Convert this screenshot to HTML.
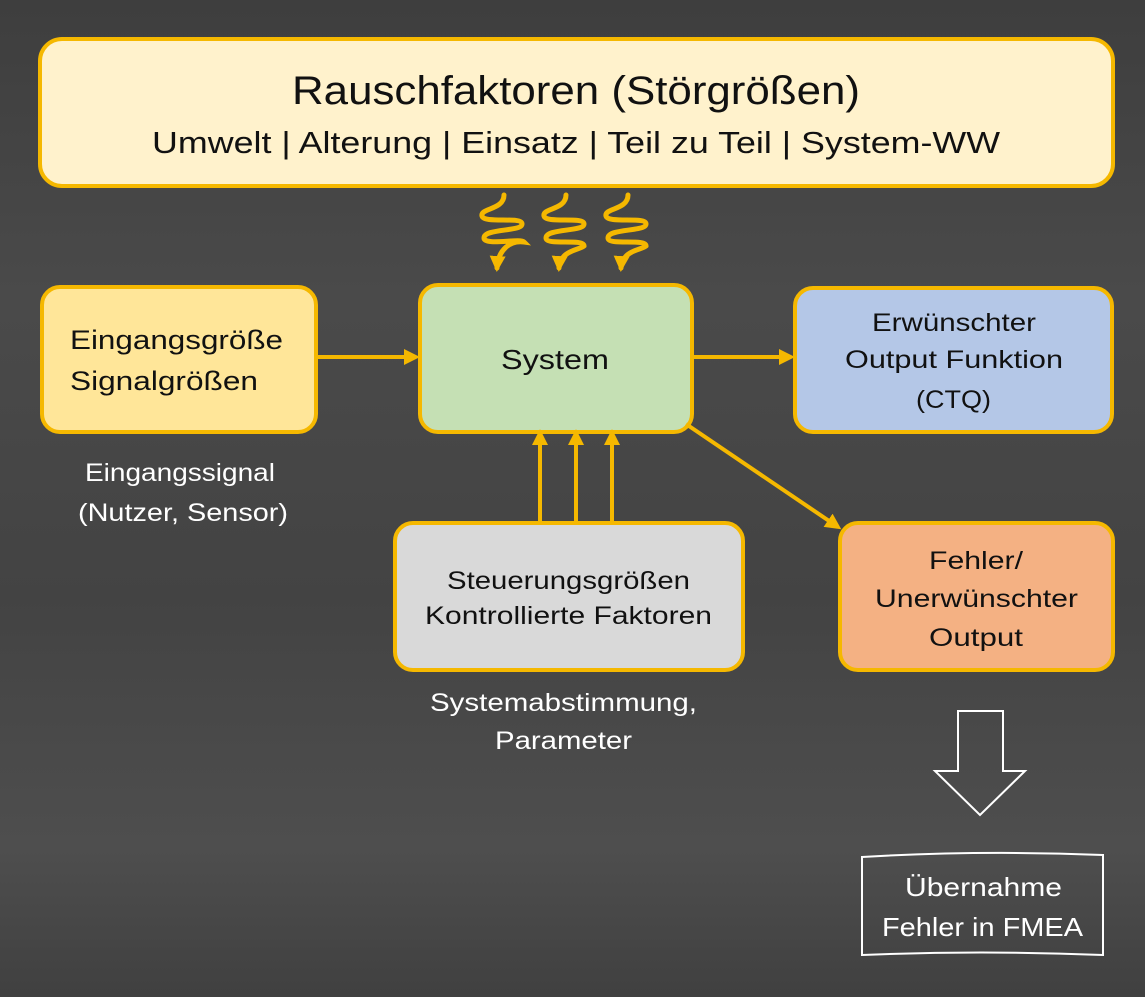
<!DOCTYPE html>
<html><head><meta charset="utf-8"><style>
html,body{margin:0;padding:0;}
body{width:1145px;height:997px;overflow:hidden;background:#474747;}
svg{display:block}
text{font-family:"Liberation Sans",sans-serif;}
</style></head><body>
<svg width="1145" height="997" viewBox="0 0 1145 997" xmlns="http://www.w3.org/2000/svg">
<defs>
<linearGradient id="bg" x1="0" y1="0" x2="0" y2="1">
<stop offset="0" stop-color="#3e3e3e"/><stop offset="0.3" stop-color="#4a4a4a"/><stop offset="0.6" stop-color="#434343"/><stop offset="0.85" stop-color="#4e4e4e"/><stop offset="1" stop-color="#404040"/>
</linearGradient>
<marker id="ah2" markerWidth="16" markerHeight="16" refX="12" refY="8" orient="auto" markerUnits="userSpaceOnUse"><path d="M0,0 L16,8 L0,16 z" fill="#f5b800"/></marker>
</defs>
<rect width="1145" height="997" fill="url(#bg)"/>
<g stroke="#f5b800" stroke-width="4">
<rect x="40" y="39" width="1073" height="147" rx="22" fill="#fff2cc"/>
<rect x="42" y="287" width="274" height="145" rx="18" fill="#ffe699"/>
<rect x="420" y="285" width="272" height="147" rx="18" fill="#c5e0b4"/>
<rect x="795" y="288" width="317" height="144" rx="18" fill="#b4c7e7"/>
<rect x="395" y="523" width="348" height="147" rx="18" fill="#d9d9d9"/>
<rect x="840" y="523" width="273" height="147" rx="18" fill="#f4b183"/>
</g>
<g stroke="#f5b800" stroke-width="4" fill="none">
<line x1="318" y1="357" x2="416" y2="357" marker-end="url(#ah2)"/>
<line x1="692" y1="357" x2="791" y2="357" marker-end="url(#ah2)"/>
<line x1="686" y1="424" x2="838" y2="527" marker-end="url(#ah2)"/>
<line x1="540" y1="522" x2="540" y2="433" marker-end="url(#ah2)"/>
<line x1="576" y1="522" x2="576" y2="433" marker-end="url(#ah2)"/>
<line x1="612" y1="522" x2="612" y2="433" marker-end="url(#ah2)"/>
<g stroke-width="5" stroke-linecap="round">
<path d="M504,195 C504,210 480,208 482,216 C484,224 522,216 522,224 C522,232 484,228 484,238 C484,246 520,238 524,242 C510,240 498,250 497,268" marker-end="url(#ah2)"/>
<path d="M566,195 C566,210 542,208 544,216 C546,224 584,216 584,224 C584,232 546,228 546,238 C546,246 584,238 584,246 C580,250 560,250 559,268" marker-end="url(#ah2)"/>
<path d="M628,195 C628,210 604,208 606,216 C608,224 646,216 646,224 C646,232 608,228 608,238 C608,246 646,238 646,246 C642,250 622,250 621,268" marker-end="url(#ah2)"/>
</g>
</g>
<path d="M958,711 L1003,711 L1003,771 L1025,771 L980,815 L935,771 L958,771 Z" fill="none" stroke="#fff" stroke-width="2"/>
<path d="M862,857 Q980,850 1103,855 L1103,955 Q980,950 862,955 Z" fill="none" stroke="#fff" stroke-width="2"/>
<g fill="#111" lengthAdjust="spacingAndGlyphs">
<text x="292" y="104" font-size="40" textLength="568" lengthAdjust="spacingAndGlyphs">Rauschfaktoren (Störgrößen)</text>
<text x="152" y="153" font-size="31" textLength="848" lengthAdjust="spacingAndGlyphs">Umwelt | Alterung | Einsatz | Teil zu Teil | System-WW</text>
<text x="70" y="349" font-size="27" textLength="213" lengthAdjust="spacingAndGlyphs">Eingangsgröße</text>
<text x="70" y="390" font-size="27" textLength="188" lengthAdjust="spacingAndGlyphs">Signalgrößen</text>
<text x="501" y="369" font-size="28" textLength="108" lengthAdjust="spacingAndGlyphs">System</text>
<text x="872" y="331" font-size="25" textLength="164" lengthAdjust="spacingAndGlyphs">Erwünschter</text>
<text x="845" y="368" font-size="25" textLength="218" lengthAdjust="spacingAndGlyphs">Output Funktion</text>
<text x="916" y="408" font-size="25" textLength="75" lengthAdjust="spacingAndGlyphs">(CTQ)</text>
<text x="447" y="589" font-size="25" textLength="243" lengthAdjust="spacingAndGlyphs">Steuerungsgrößen</text>
<text x="425" y="624" font-size="25" textLength="287" lengthAdjust="spacingAndGlyphs">Kontrollierte Faktoren</text>
<text x="929" y="569" font-size="25" textLength="94" lengthAdjust="spacingAndGlyphs">Fehler/</text>
<text x="875" y="607" font-size="25" textLength="203" lengthAdjust="spacingAndGlyphs">Unerwünschter</text>
<text x="929" y="646" font-size="25" textLength="94" lengthAdjust="spacingAndGlyphs">Output</text>
</g>
<g fill="#fff" font-size="25">
<text x="85" y="481" textLength="190" lengthAdjust="spacingAndGlyphs">Eingangssignal</text>
<text x="78" y="521" textLength="210" lengthAdjust="spacingAndGlyphs">(Nutzer, Sensor)</text>
<text x="430" y="711" textLength="267" lengthAdjust="spacingAndGlyphs">Systemabstimmung,</text>
<text x="495" y="749" textLength="137" lengthAdjust="spacingAndGlyphs">Parameter</text>
<text x="905" y="896" font-size="26" textLength="157" lengthAdjust="spacingAndGlyphs">Übernahme</text>
<text x="882" y="936" font-size="26" textLength="201" lengthAdjust="spacingAndGlyphs">Fehler in FMEA</text>
</g>
</svg>
</body></html>
